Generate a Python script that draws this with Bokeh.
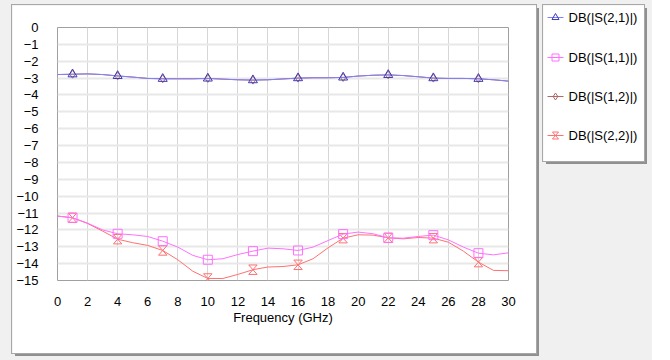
from bokeh.plotting import figure
from bokeh.layouts import row, column
from bokeh.models import Range1d, FixedTicker, Spacer
from bokeh.core.properties import value
from bokeh.embed import file_html
from bokeh.resources import INLINE

# ---- data ----
freq = list(range(0, 31))
s21 = [-2.79, -2.77, -2.75, -2.79, -2.87, -2.94, -3.02, -3.04, -3.04, -3.04, -3.02,
       -3.06, -3.10, -3.12, -3.10, -3.05, -3.00, -2.98, -2.98, -2.96, -2.88,
       -2.83, -2.81, -2.85, -2.92, -3.00, -3.02, -3.02, -3.04, -3.10, -3.18]
s12 = list(s21)
s11 = [-11.18, -11.28, -11.60, -12.00, -12.23, -12.29, -12.39, -12.67, -13.02, -13.51, -13.77,
       -13.71, -13.46, -13.26, -13.08, -13.12, -13.22, -13.02, -12.63, -12.25, -12.13,
       -12.23, -12.47, -12.49, -12.39, -12.31, -12.59, -13.02, -13.38, -13.48, -13.36]
s22 = [-11.18, -11.28, -11.62, -12.07, -12.55, -12.76, -12.92, -13.22, -13.77, -14.45, -14.88,
       -14.88, -14.64, -14.36, -14.20, -14.17, -14.07, -13.71, -13.06, -12.49, -12.29,
       -12.31, -12.47, -12.53, -12.45, -12.49, -12.73, -13.26, -13.91, -14.40, -14.42]
x_ticks = list(range(0, 31, 2))
y_ticks = list(range(0, -16, -1))
series_names = ["DB(|S(2,1)|)", "DB(|S(1,1)|)", "DB(|S(1,2)|)", "DB(|S(2,2)|)"]

# ---- styles ----
FONT = "Liberation Sans"
C21_LINE, C21_MK = "#8080ff", "#3c3cb4"
C11 = "#ff70ff"
C12 = "#b06868"
C22 = "#ff7070"
GRAY_BG = "#f0f0f0"
SHADOW = "0 0 0 1px #a8a8a8, 3px 3px 0 0 #909090"

p = figure(width=524, height=348, output_backend="svg", toolbar_location=None, title=None,
           x_range=Range1d(0, 30), y_range=Range1d(-15, 0),
           min_border_left=45, min_border_right=28, min_border_top=22, min_border_bottom=73)
p.background_fill_color = "white"
p.border_fill_color = "white"
p.outline_line_color = "#a0a0a0"
p.outline_line_width = 1
p.styles = {"box-shadow": SHADOW}

for ax in (p.xaxis[0], p.yaxis[0]):
    ax.axis_line_color = None
    ax.major_tick_line_color = None
    ax.minor_tick_line_color = None
    ax.major_label_text_font = FONT
    ax.major_label_text_font_size = "13px"
    ax.major_label_text_color = "black"
p.xaxis.ticker = FixedTicker(ticks=x_ticks)
p.yaxis.ticker = FixedTicker(ticks=y_ticks)
p.xaxis.major_label_standoff = 10
p.yaxis.major_label_standoff = 13
p.xaxis.axis_label = "Frequency (GHz)"
p.xaxis.axis_label_text_font = FONT
p.xaxis.axis_label_text_font_size = "13px"
p.xaxis.axis_label_text_font_style = "normal"
p.xaxis.axis_label_text_color = "black"
p.xaxis.axis_label_standoff = 1

p.xgrid.ticker = FixedTicker(ticks=x_ticks)
p.ygrid.ticker = FixedTicker(ticks=y_ticks)
p.xgrid.grid_line_color = "#d6d6d6"
p.xgrid.grid_line_width = 1
p.ygrid.grid_line_color = "#e8e8e8"
p.ygrid.grid_line_width = 2

mk = slice(1, None, 3)
fm = freq[mk]

# S(1,2) (hidden below S(2,1))
p.line(freq, s12, line_color=C12, line_width=1)
p.scatter(fm, s12[mk], marker="diamond", size=8, fill_color=None, line_color=C12)
# S(2,1)
p.line(freq, s21, line_color=C21_LINE, line_width=1)
p.scatter(fm, s21[mk], marker="triangle", size=9, fill_color=None, line_color=C21_MK, line_width=1)
# S(2,2)
p.line(freq, s22, line_color=C22, line_width=1)
dx, dy = 0.28, 0.28
hx = [[x - dx, x + dx, x - dx, x + dx] for x in fm]
hy = [[y + dy, y + dy, y - dy, y - dy] for y in s22[mk]]
p.patches(hx, hy, fill_color=None, line_color=C22, line_width=1)
# S(1,1)
p.line(freq, s11, line_color=C11, line_width=1)
p.scatter(fm, s11[mk], marker="square", size=9, fill_color=None, line_color=C11, line_width=1)

# ---- legend box (its own small canvas, no axes) ----
LW, LH = 101, 156
lg = figure(width=LW, height=LH, output_backend="svg", toolbar_location=None, title=None,
            x_axis_type=None, y_axis_type=None,
            x_range=Range1d(0, LW), y_range=Range1d(LH, 0),
            min_border_left=0, min_border_right=0, min_border_top=0, min_border_bottom=0)
lg.grid.visible = False
lg.outline_line_color = None
lg.background_fill_color = "white"
lg.border_fill_color = "white"
lg.styles = {"box-shadow": SHADOW}

ey = [12, 52, 91, 130]
colors = [C21_LINE, C11, C12, C22]
lg.segment(x0=[4] * 4, y0=ey, x1=[20] * 4, y1=ey, line_color=colors, line_width=1)
lg.scatter([12], [ey[0]], marker="triangle", size=7, fill_color=None, line_color=C21_MK)
lg.scatter([12], [ey[1]], marker="square", size=7, fill_color=None, line_color=C11)
lg.scatter([12], [ey[2]], marker="diamond", size=7, fill_color=None, line_color=C12)
lg.patches([[9, 15, 9, 15]], [[ey[3] - 3.5, ey[3] - 3.5, ey[3] + 3.5, ey[3] + 3.5]],
           fill_color=None, line_color=C22)
lg.text([25] * 4, ey, text=series_names, text_font=value(FONT), text_font_size="13px",
        text_baseline="middle", text_align="left", text_color="black")

left_col = column(Spacer(width=524, height=5), p, align="start")
right_col = column(Spacer(width=LW, height=5), lg, align="start")
layout = row(Spacer(width=12, height=5), left_col, Spacer(width=7, height=5), right_col,
             width=652, height=360, styles={"background-color": GRAY_BG})

open("out.html", "w").write(file_html(layout, INLINE))
